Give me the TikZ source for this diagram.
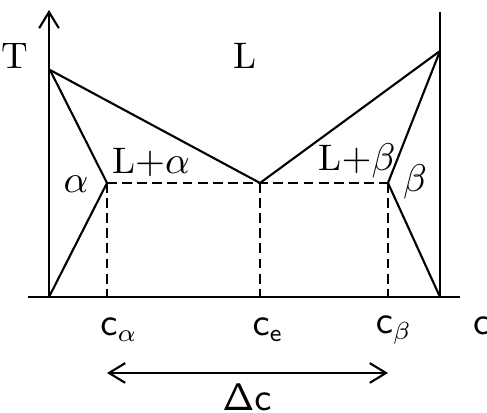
\documentclass[tikz,border=0pt]{standalone}
\usepackage{amsmath,amssymb}
\usetikzlibrary{arrows.meta,positioning}

\begin{document}
\begin{tikzpicture}[x=0.01cm,y=-0.01cm,line width=0.6pt,font=\fontsize{10.5}{12}\selectfont,
    guide/.style={dash pattern=on 2.8pt off 1.5pt},
    barb/.style={-{Straight Barb[length=4.6pt,width=5.6pt]}},
    twobarb/.style={{Straight Barb[length=4.6pt,width=5.6pt]}-{Straight Barb[length=4.6pt,width=5.6pt]}},
    lbl/.style={inner sep=0pt}]
        \useasboundingbox (0,0) rectangle (487,413);
        % axes
        \coordinate (O) at (49,297);
        \coordinate (Ttip) at (49,10);
        \coordinate (xl) at (28,297);
        \coordinate (xr) at (460,297);
        \coordinate (B) at (440,297);
        \coordinate (Btop) at (440,12);
        \draw[barb] (O) -- (Ttip);
        \draw (xl) -- (xr);
        \draw (B) -- (Btop);
        % phase boundaries
        \coordinate (mA) at (50,70);
        \coordinate (mB) at (440,51);
        \coordinate (E) at (260,183);
        \coordinate (sa) at (107,183);
        \coordinate (sb) at (388,183);
        \draw (mA) -- (E) -- (mB);
        \draw (mA) -- (sa) -- (O);
        \draw (mB) -- (sb) -- (B);
        % eutectic line and guides
        \coordinate (ca) at (107,297);
        \coordinate (ce) at (260,297);
        \coordinate (cb) at (388,297);
        \draw[guide] (sa) -- (sb);
        \foreach \p/\q in {sa/ca,E/ce,sb/cb}{\draw[guide] (\p) -- (\q);}
        % labels
        \node[lbl] (T) at (15,56) {T};
        \node[lbl] (L) at (245,56) {L};
        \node[lbl] (La) at (151,163) {L$+\alpha$};
        \node[lbl] (Lb) at (357,161) {L$+\beta$};
        \node[lbl] (al) at (76,184) {$\alpha$};
        \node[lbl] (be) at (415,182) {$\beta$};
        \node[lbl] (nca) at (119,330) {$\mathsf{c}_{\alpha}$};
        \node[lbl] (nce) at (268,330) {$\mathsf{c}_{\mathsf{e}}$};
        \node[lbl] (ncb) at (394,330) {$\mathsf{c}_{\beta}$};
        \node[lbl,anchor=west] (nc) at (472,326) {$\mathsf{c}$};
        % width of the gap
        \coordinate (da) at (107,373);
        \coordinate (db) at (388,373);
        \draw[twobarb] (da) -- (db);
        \node[lbl] (dc) at (247,397) {$\mathsf{\Delta c}$};
      \end{tikzpicture}
\end{document}
